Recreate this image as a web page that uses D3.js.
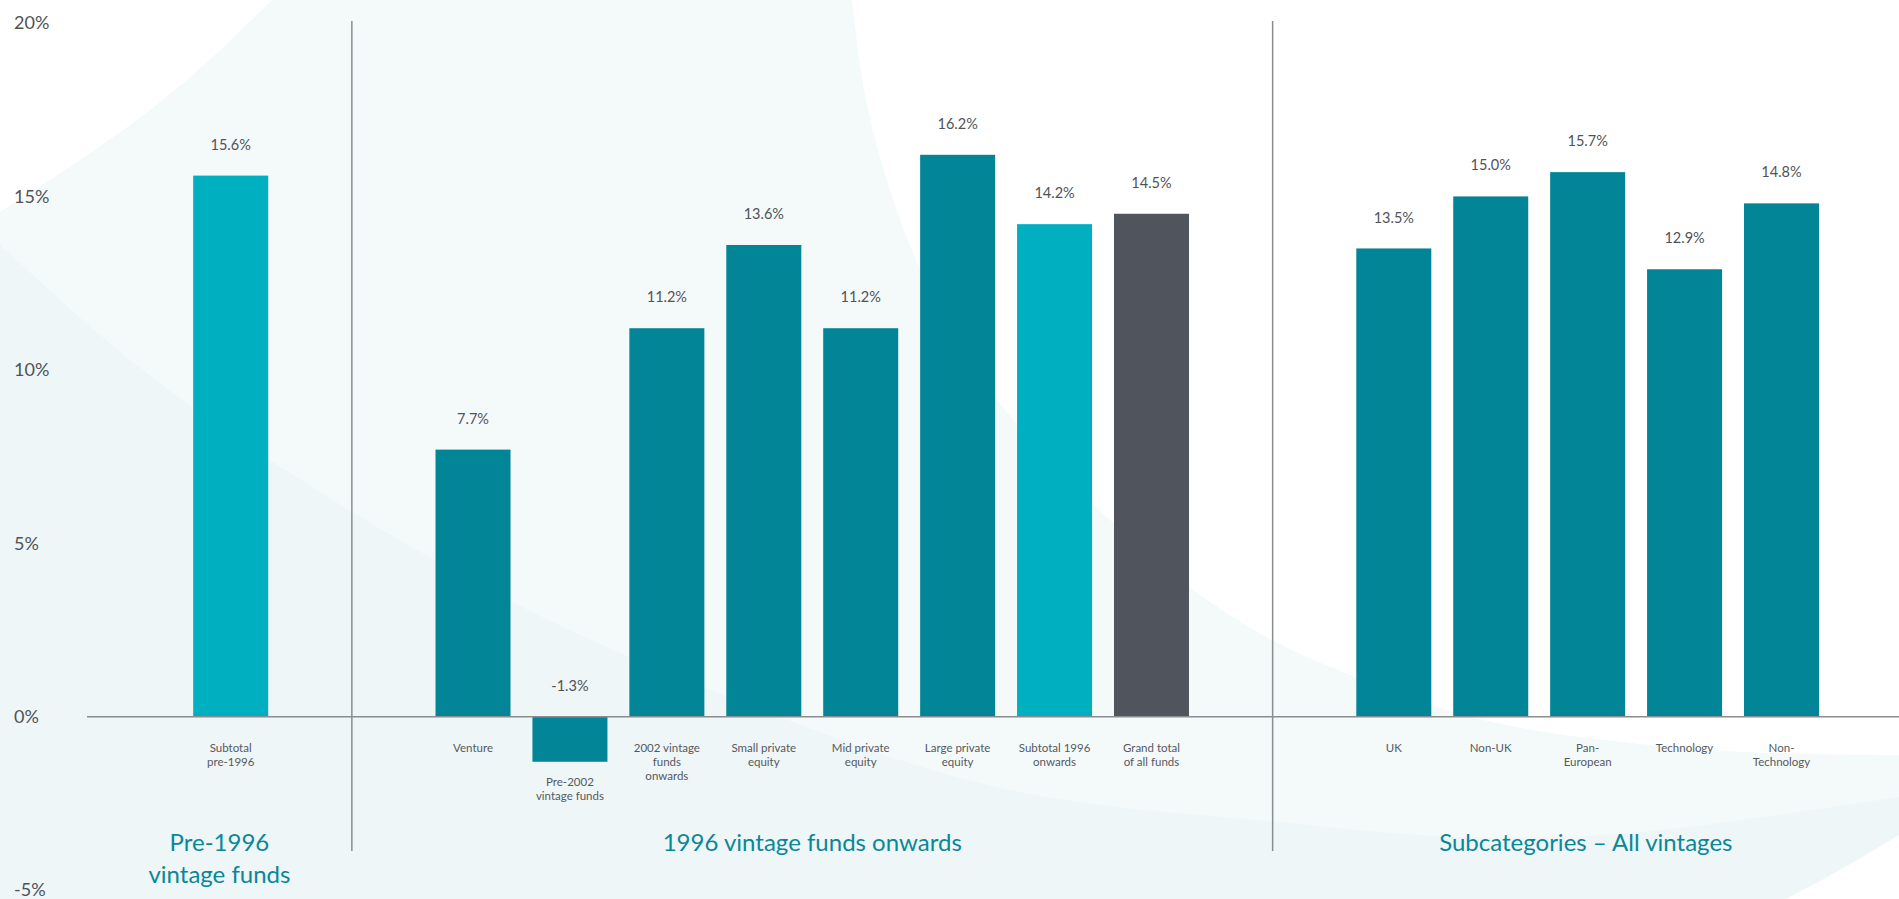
<!DOCTYPE html>
<html>
<head>
<meta charset="utf-8">
<script src="https://cdn.jsdelivr.net/npm/d3@7"></script>
<style>
  html, body { margin: 0; padding: 0; background: #f4f9fa; }
  svg { display: block; font-family: Lato, "Open Sans", sans-serif; }
</style>
</head>
<body>
<div id="chart"></div>
<script>
// chart data
const categories = [
  "Subtotal\npre-1996",
  "Venture",
  "Pre-2002\nvintage funds",
  "2002 vintage\nfunds\nonwards",
  "Small private\nequity",
  "Mid private\nequity",
  "Large private\nequity",
  "Subtotal 1996\nonwards",
  "Grand total\nof all funds",
  "UK",
  "Non-UK",
  "Pan-\nEuropean",
  "Technology",
  "Non-\nTechnology",
];
const values = [15.6, 7.7, -1.3, 11.2, 13.6, 11.2, 16.2, 14.2, 14.5, 13.5, 15.0, 15.7, 12.9, 14.8];
const kinds = ["subtotal", "fund", "fund", "fund", "fund", "fund", "fund", "subtotal", "total",
  "fund", "fund", "fund", "fund", "fund"];
const groupOf = [0, 1, 1, 1, 1, 1, 1, 1, 1, 2, 2, 2, 2, 2];
const groupTitles = ["Pre-1996\nvintage funds", "1996 vintage funds onwards", "Subcategories \u2013 All vintages"];
const yTicks = [-5, 0, 5, 10, 15, 20];

const width = 1899;
const height = 899;
const axisStart = 87;
const barWidth = 75;
const groupGap = 1.5;

const textGrey = "#4f5358";
const ruleGrey = "#8a8d90";
const titleTeal = "#0a8797";

const color = d3.scaleOrdinal()
  .domain(["fund", "subtotal", "total"])
  .range(["#028596", "#00afc0", "#50545c"]);

// slot index for each bar, with a gap between groups
let slot = -1;
const data = values.map((v, i) => {
  slot += (i > 0 && groupOf[i] !== groupOf[i - 1]) ? 1 + groupGap : 1;
  return { label: categories[i], value: v, kind: kinds[i], group: groupOf[i], slot };
});

const x = d3.scaleLinear()
  .domain([0, d3.max(data, (d) => d.slot)])
  .range([230.7, 1781.5]);

const y = d3.scaleLinear()
  .domain([d3.min(yTicks), d3.max(yTicks)])
  .range([890.1, 23]);

const svg = d3.select("#chart")
  .append("svg")
  .attr("width", width)
  .attr("height", height);

// background shapes
const curve = d3.line().curve(d3.curveCatmullRom);
const bg = svg.append("g");
bg.append("rect").attr("width", width).attr("height", height).attr("fill", "#f4f9fa");

const lower = [[0, 245], [130, 360], [268, 459], [510, 601], [733, 699], [1000, 788],
  [1287, 823], [1459, 837], [1631, 833], [1899, 797]];
bg.append("path")
  .attr("d", curve(lower) + `L${width},${height}L0,${height}Z`)
  .attr("fill", "#eef6f7");

const topLeft = [[0, 212], [80, 160], [150, 110], [215, 55], [272, 0]];
bg.append("path")
  .attr("d", curve(topLeft) + "L0,0Z")
  .attr("fill", "#ffffff");

const blob = [[852, 0], [866, 100], [890, 190], [925, 280], [975, 370], [1040, 450],
  [1110, 520], [1189, 587], [1272, 640], [1355, 677], [1436, 707], [1516, 727],
  [1631, 743], [1745, 752], [1899, 755]];
bg.append("path")
  .attr("d", curve(blob) + `L${width},0Z`)
  .attr("fill", "#ffffff");

const corner = [[1899, 835], [1840, 870], [1786, 899]];
bg.append("path")
  .attr("d", curve(corner) + `L${width},${height}Z`)
  .attr("fill", "#ffffff");

// y axis labels
const yAxis = svg.append("g")
  .attr("transform", "translate(14,0)")
  .call(d3.axisLeft(y).tickValues(yTicks).tickFormat((d) => d + "%").tickSize(0));
yAxis.select(".domain").remove();
yAxis.selectAll("text")
  .attr("x", 0)
  .attr("text-anchor", "start")
  .attr("fill", textGrey)
  .style("font-size", "18px")
  .style("font-family", "Lato, sans-serif");

// group dividers and titles
const groups = d3.groups(data, (d) => d.group).map(([g, rows]) => ({
  g,
  first: d3.min(rows, (d) => d.slot),
  last: d3.max(rows, (d) => d.slot),
}));
const dividers = groups.slice(1).map((gr, i) => (x(groups[i].last) + x(gr.first)) / 2);
const bounds = [axisStart, ...dividers, width];

svg.append("g")
  .selectAll("line")
  .data(dividers)
  .join("line")
  .attr("x1", (d) => d)
  .attr("x2", (d) => d)
  .attr("y1", 21)
  .attr("y2", 851)
  .attr("stroke", ruleGrey)
  .attr("stroke-width", 1.5);

svg.append("g")
  .selectAll("text")
  .data(groupTitles)
  .join("text")
  .attr("x", (d, i) => (bounds[i] + bounds[i + 1]) / 2)
  .attr("y", 843)
  .attr("text-anchor", "middle")
  .attr("fill", titleTeal)
  .style("font-size", "24px")
  .selectAll("tspan")
  .data((d) => d.split("\n"))
  .join("tspan")
  .attr("x", function () { return this.parentNode.getAttribute("x"); })
  .attr("dy", (d, i) => (i === 0 ? "0.35em" : 32))
  .text((d) => d);

// bars
svg.append("g")
  .selectAll("rect")
  .data(data)
  .join("rect")
  .attr("x", (d) => x(d.slot) - barWidth / 2)
  .attr("y", (d) => y(Math.max(0, d.value)))
  .attr("width", barWidth)
  .attr("height", (d) => Math.abs(y(d.value) - y(0)))
  .attr("fill", (d) => color(d.kind));

// zero line
svg.append("line")
  .attr("x1", axisStart)
  .attr("x2", width)
  .attr("y1", y(0))
  .attr("y2", y(0))
  .attr("stroke", ruleGrey)
  .attr("stroke-width", 1.5);

// value labels
svg.append("g")
  .selectAll("text")
  .data(data)
  .join("text")
  .attr("x", (d) => x(d.slot))
  .attr("y", (d) => Math.min(y(d.value), y(0)) - 31)
  .attr("dy", "0.35em")
  .attr("text-anchor", "middle")
  .attr("fill", textGrey)
  .style("font-size", "14.5px")
  .text((d) => d.value.toFixed(1) + "%");

// category labels
svg.append("g")
  .selectAll("text")
  .data(data)
  .join("text")
  .attr("x", (d) => x(d.slot))
  .attr("y", (d) => Math.max(y(0) + 31, y(d.value) + 20))
  .attr("text-anchor", "middle")
  .attr("fill", "#55595e")
  .style("font-size", "11.5px")
  .selectAll("tspan")
  .data((d) => d.label.split("\n"))
  .join("tspan")
  .attr("x", function () { return this.parentNode.getAttribute("x"); })
  .attr("dy", (d, i) => (i === 0 ? "0.35em" : 14))
  .text((d) => d);
</script>
</body>
</html>
